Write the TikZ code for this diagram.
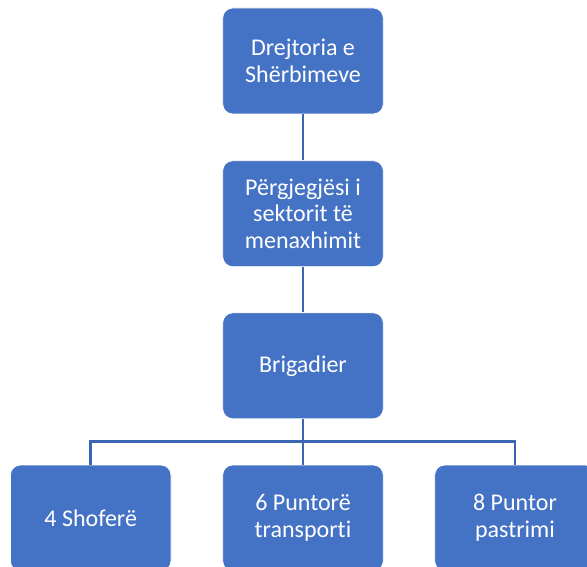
\documentclass[tikz,border=0pt]{standalone}
\usepackage{fontspec}
\setmainfont{Carlito}[Ligatures={NoCommon}]
\definecolor{boxblue}{HTML}{4472C4}
\definecolor{lineblue}{HTML}{3B65B3}
\tikzset{
  orgbox/.style={rectangle, rounded corners=10pt, fill=boxblue, draw=white, line width=0.8pt,
    minimum width=160.6pt, minimum height=106pt, text=white, align=center, inner sep=2pt,
    font=\fontsize{24pt}{26.7pt}\selectfont},
  conn/.style={draw=lineblue, line width=2.7pt}
}
\begin{document}
\begin{tikzpicture}[x=1pt,y=-1pt]
\clip (0,0) rectangle (587,567);
\fill[white] (0,0) rectangle (587,567);
\node[orgbox] (n1) at (303,61) {Drejtoria e\\Shërbimeve};
\node[orgbox] (n2) at (303,213.7) {Përgjegjësi i\\sektorit të\\menaxhimit};
\node[orgbox] (n3) at (303,365.8) {Brigadier};
\node[orgbox] (b1) at (90.7,518) {4 Shoferë};
\node[orgbox] (b2) at (303,518) {6 Puntorë\\transporti};
\node[orgbox] (b3) at (515,518) {8 Puntor\\pastrimi};
\coordinate (bus) at (303,441.7);
\draw[conn] (n1.south) -- (n2.north);
\draw[conn] (n2.south) -- (n3.north);
\draw[conn] (n3.south) -- (bus);
\draw[conn] (bus) -| (b1.north);
\draw[conn] (bus) -| (b3.north);
\draw[conn] (bus) -- (b2.north);
\end{tikzpicture}
\end{document}
